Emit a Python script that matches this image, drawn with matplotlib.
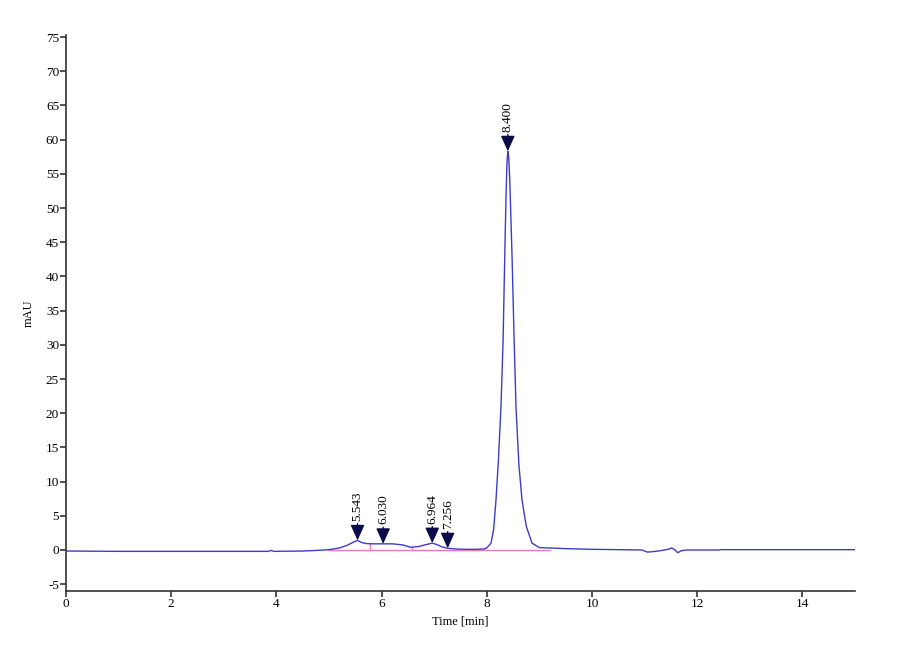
import numpy as np
import matplotlib.pyplot as plt

plt.rcParams['font.family'] = ['Liberation Serif', 'DejaVu Serif']
plt.rcParams['axes.unicode_minus'] = False

# chromatogram trace (time in min, signal in mAU)
time = [0.0, 1.0, 2.0, 3.0, 3.85, 3.9, 3.95, 4.5, 4.8, 5.0, 5.2, 5.35, 5.45,
        5.543, 5.62, 5.7, 5.8, 6.0, 6.2, 6.4, 6.55, 6.7, 6.85, 6.964, 7.05,
        7.15, 7.256, 7.4, 7.6, 7.8, 7.95, 8.0, 8.08, 8.13, 8.175, 8.22, 8.27,
        8.31, 8.347, 8.365, 8.385, 8.40, 8.415, 8.435, 8.455, 8.48, 8.52,
        8.555, 8.61, 8.67, 8.75, 8.86, 9.0, 9.5, 10.0, 10.5, 10.95, 11.05,
        11.15, 11.3, 11.45, 11.52, 11.58, 11.63, 11.7, 11.8, 12.0, 12.42,
        12.45, 13.0, 14.0, 15.0]
signal = [-0.15, -0.2, -0.2, -0.2, -0.2, -0.05, -0.2, -0.15, -0.05, 0.05,
          0.3, 0.7, 1.1, 1.4, 1.1, 0.95, 0.9, 0.9, 0.9, 0.75, 0.4, 0.5, 0.8,
          1.0, 0.8, 0.45, 0.25, 0.15, 0.1, 0.1, 0.15, 0.3, 1.0, 3.0, 7.3,
          13.0, 21.0, 30.7, 45.0, 51.5, 56.8, 58.3, 57.6, 54.5, 49.5, 43.0,
          30.7, 21.0, 12.5, 7.3, 3.5, 1.0, 0.35, 0.2, 0.1, 0.05, 0.0, -0.3,
          -0.25, -0.1, 0.1, 0.3, 0.0, -0.4, -0.1, 0.0, 0.0, 0.0, 0.05, 0.05,
          0.05, 0.05]

# integrated peaks
peak_times = [5.543, 6.030, 6.964, 7.256, 8.400]
peak_heights = [1.4, 0.9, 1.0, 0.25, 58.3]
peak_labels = ['5.543', '6.030', '6.964', '7.256', '8.400']

# baseline and drop lines (pink)
base_t = [5.0, 9.2]
base_y = [0.0, 0.0]
drop_t = [5.78, 6.58]
drop_y = [0.92, 0.4]

fig = plt.figure(figsize=(9, 6.6), dpi=100)
ax = fig.add_axes([0.0733, 0.1045, 0.8767, 0.8424])

ax.plot(base_t, base_y, color='#f07ab8', lw=1.0, zorder=1)
for t, y in zip(drop_t, drop_y):
    ax.plot([t, t], [0, y], color='#f07ab8', lw=1.0, zorder=1)

ax.plot(time, signal, color='#3c3cc8', lw=1.0, zorder=2)

for t, h, lab in zip(peak_times, peak_heights, peak_labels):
    ax.annotate(lab, xy=(t, h), xytext=(0, 14), textcoords='offset points',
                rotation=90, ha='center', va='bottom', fontsize=9.5,
                arrowprops=dict(arrowstyle='-|>,head_length=1.0,head_width=0.45',
                                color='#0b0b4a', lw=1.0, shrinkA=0, shrinkB=0),
                zorder=3)

ax.set_xlim(0, 15)
ax.set_ylim(-6, 75.3)
ax.set_xticks(np.arange(0, 15, 2))
ax.set_yticks(np.arange(-5, 76, 5))
ax.spines['top'].set_visible(False)
ax.spines['right'].set_visible(False)
for s in ['left', 'bottom']:
    ax.spines[s].set_color('#333333')
    ax.spines[s].set_linewidth(1.2)
ax.tick_params(axis='both', labelsize=9.5, length=4, width=1.2,
               color='#333333', pad=1)
ax.set_xlabel('Time [min]', fontsize=9, labelpad=4)
ax.set_ylabel('mAU', fontsize=9, labelpad=8)

fig.savefig('out.png', dpi=100)
